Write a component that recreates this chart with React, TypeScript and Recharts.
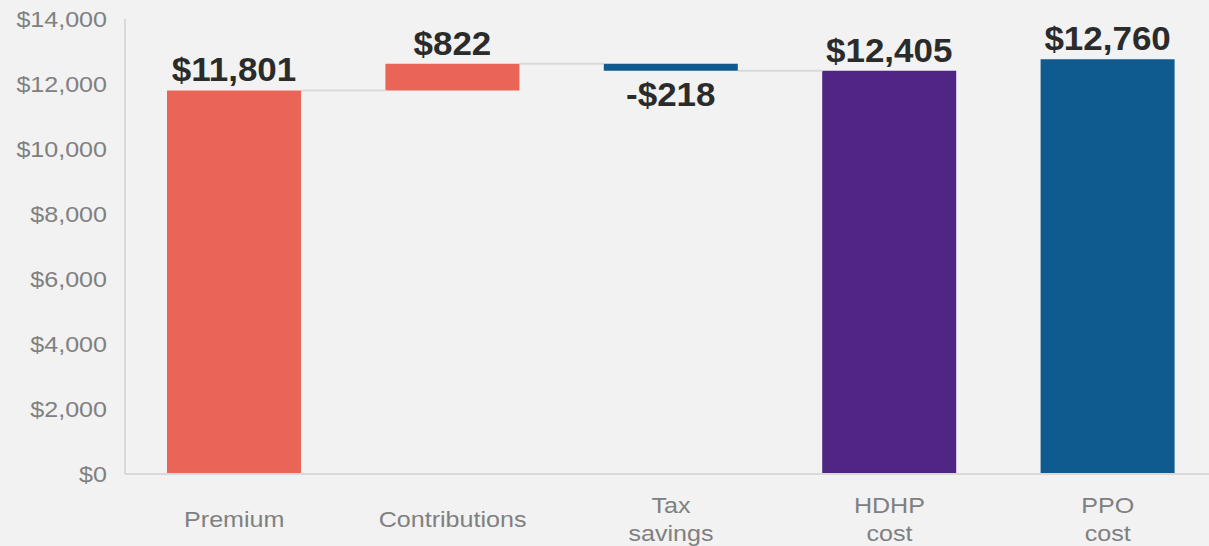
import React from 'react';
import { BarChart, Bar, XAxis, YAxis, Cell, LabelList, ReferenceLine } from 'recharts';

const categories = ['Premium', 'Contributions', 'Tax\nsavings', 'HDHP\ncost', 'PPO\ncost'];
const changes = [11801, 822, -218, 12405, 12760];
const isTotal = [true, false, false, true, true];
const colors = ['#EA6557', '#EA6557', '#0F5A8F', '#4F2683', '#0F5A8F'];
const yTicks = [0, 2000, 4000, 6000, 8000, 10000, 12000, 14000];
const connectors = [[0, 1], [1, 2], [2, 3]];

const FONT = '"Liberation Sans", Arial, Helvetica, sans-serif';
const BAR_SIZE = 134;

let running = 0;
const data = categories.map((name, i) => {
  let low: number;
  let high: number;
  if (isTotal[i]) {
    low = 0;
    high = changes[i];
    running = changes[i];
  } else {
    const start = running;
    running = start + changes[i];
    low = Math.min(start, running);
    high = Math.max(start, running);
  }
  return { name, range: [low, high], value: changes[i], end: running };
});

const fmt = (v: number) => (v < 0 ? '-$' : '$') + Math.abs(v).toLocaleString('en-US');

const YTick = (props: any) => {
  const { x, y, payload } = props;
  return (
    <text
      transform={`translate(${x},${y}) scale(1.14,1)`}
      textAnchor="end"
      dy="0.35em"
      fontSize={22}
      fill="#808080"
      fontFamily={FONT}
    >
      {'$' + Number(payload.value).toLocaleString('en-US')}
    </text>
  );
};

const XTick = (props: any) => {
  const { x, y, payload } = props;
  const lines = String(payload.value).split('\n');
  const n = lines.length;
  return (
    <g>
      {lines.map((ln, i) => (
        <text
          key={i}
          transform={`translate(${x},${y + 53 + (i - (n - 1) / 2) * 28}) scale(1.14,1)`}
          textAnchor="middle"
          fontSize={22}
          fill="#808080"
          fontFamily={FONT}
        >
          {ln}
        </text>
      ))}
    </g>
  );
};

const renderLabel = (props: any) => {
  const x = Number(props.x);
  const y = Number(props.y);
  const width = Number(props.width);
  const height = Number(props.height);
  const value = Number(props.value);
  const cx = x + width / 2;
  const neg = value < 0;
  const ty = neg ? y + height + 35 : y - 9;
  return (
    <text
      transform={`translate(${cx},${ty}) scale(1.06,1)`}
      textAnchor="middle"
      fontSize={33}
      fontWeight={700}
      fill="#2B2B2B"
      fontFamily={FONT}
    >
      {fmt(value)}
    </text>
  );
};

const Connector = (props: any) => {
  const { x1, y1, x2, y2 } = props;
  return (
    <line
      x1={x1 + BAR_SIZE / 2}
      y1={y1}
      x2={x2 - BAR_SIZE / 2}
      y2={y2}
      stroke="#D9D9D9"
      strokeWidth={2}
    />
  );
};

export default function App() {
  return (
    <div
      style={{
        position: 'fixed',
        left: 0,
        top: 0,
        width: 1209,
        height: 546,
        overflow: 'hidden',
        background: '#F2F2F2',
      }}
    >
      <BarChart
        width={1217}
        height={546}
        data={data}
        margin={{ top: 19, right: 0, bottom: 0, left: 0 }}
        barSize={BAR_SIZE}
      >
        <YAxis
          width={125}
          domain={[0, 14000]}
          ticks={yTicks}
          interval={0}
          tickLine={false}
          tickSize={0}
          tickMargin={18}
          axisLine={{ stroke: '#D9D9D9', strokeWidth: 2 }}
          tick={<YTick />}
        />
        <XAxis
          dataKey="name"
          height={72}
          interval={0}
          tickLine={false}
          tickSize={0}
          tickMargin={0}
          axisLine={{ stroke: '#D9D9D9', strokeWidth: 2 }}
          tick={<XTick />}
        />
        {connectors.map(([a, b]) => (
          <ReferenceLine
            key={a}
            segment={[
              { x: data[a].name, y: data[a].end },
              { x: data[b].name, y: data[a].end },
            ]}
            shape={<Connector />}
          />
        ))}
        <Bar dataKey="range" isAnimationActive={false}>
          {data.map((d, i) => (
            <Cell key={i} fill={colors[i]} />
          ))}
          <LabelList dataKey="value" content={renderLabel} />
        </Bar>
      </BarChart>
    </div>
  );
}
